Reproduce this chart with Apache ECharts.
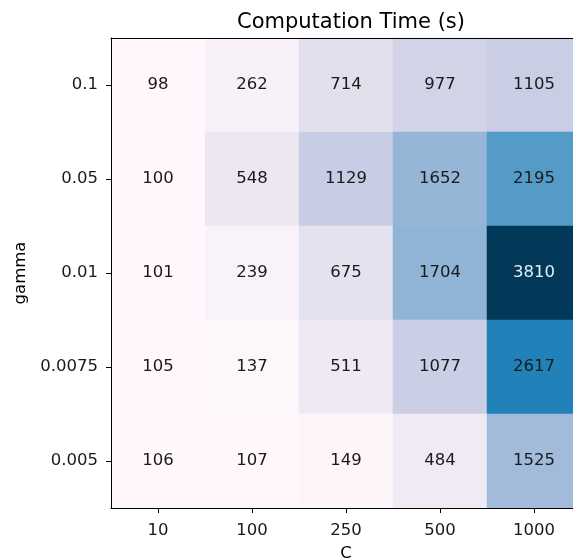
<!DOCTYPE html>
<html>
<head>
<meta charset="utf-8">
<title>Computation Time (s)</title>
<script src="https://cdn.jsdelivr.net/npm/echarts@6/dist/echarts.min.js"></script>
<style>
  html, body { margin: 0; padding: 0; background: #fff; }
  #chart { width: 573px; height: 560px; }
</style>
</head>
<body>
<div id="chart"></div>
<script>
// C on x, gamma on y (top to bottom)
const cValues = ['10', '100', '250', '500', '1000'];
const gammaValues = ['0.1', '0.05', '0.01', '0.0075', '0.005'];
// one row per gamma, one value per C
const timeRow01 = [98, 262, 714, 977, 1105];
const timeRow005 = [100, 548, 1129, 1652, 2195];
const timeRow001 = [101, 239, 675, 1704, 3810];
const timeRow00075 = [105, 137, 511, 1077, 2617];
const timeRow0005 = [106, 107, 149, 484, 1525];
const timeRows = [timeRow01, timeRow005, timeRow001, timeRow00075, timeRow0005];

// matplotlib PuBu
const puBu = ['#fff7fb', '#ece7f2', '#d0d1e6', '#a6bddb', '#74a9cf', '#3690c0', '#0570b0', '#045a8d', '#023858'];

let all = [];
timeRows.forEach(r => { all = all.concat(r); });
const vmin = Math.min(...all);
const vmax = Math.max(...all);

let cells = [];
timeRows.forEach((row, yi) => {
    row.forEach((v, xi) => {
        cells.push({
            value: [xi, yi, v],
            label: { color: v > (vmin + vmax) * 0.75 ? '#e6eef4' : '#1a1a1a' }
        });
    });
});

const font = 'DejaVu Sans';
const fs = 16.5;
let myChart = echarts.init(document.getElementById('chart'));
let option = {
    animation: false,
    textStyle: { fontFamily: font },
    title: {
        text: 'Computation Time (s)',
        left: 346,
        textAlign: 'center',
        top: 7,
        textStyle: { fontFamily: font, fontSize: 21, fontWeight: 'normal', color: '#000' }
    },
    grid: { left: 111, top: 38, width: 470, height: 470, outerBoundsMode: 'none' },
    visualMap: {
        show: false,
        type: 'continuous',
        min: vmin,
        max: vmax,
        dimension: 2,
        inRange: { color: puBu }
    },
    xAxis: [{
        type: 'category',
        data: cValues,
        position: 'bottom',
        z: 10,
        name: 'C',
        nameLocation: 'middle',
        nameGap: 37,
        nameTextStyle: { fontFamily: font, fontSize: fs, color: '#000' },
        axisLine: { show: true, lineStyle: { color: '#000', width: 1 } },
        axisTick: { show: true, alignWithLabel: true, length: 5, lineStyle: { color: '#000' } },
        axisLabel: { margin: 14, fontFamily: font, fontSize: fs, color: '#1a1a1a' },
        splitLine: { show: false }
    }, {
        type: 'category',
        data: cValues,
        position: 'top',
        z: 10,
        axisLine: { show: true, lineStyle: { color: '#000', width: 1 } },
        axisTick: { show: false },
        axisLabel: { show: false }
    }],
    yAxis: {
        type: 'category',
        data: gammaValues,
        inverse: true,
        z: 10,
        name: 'gamma',
        nameLocation: 'middle',
        nameGap: 79,
        nameTextStyle: { fontFamily: font, fontSize: fs, color: '#000' },
        axisLine: { show: true, lineStyle: { color: '#000', width: 1 } },
        axisTick: { show: true, alignWithLabel: true, length: 5, lineStyle: { color: '#000' } },
        axisLabel: { margin: 13, fontFamily: font, fontSize: fs, color: '#1a1a1a' },
        splitLine: { show: false }
    },
    series: [{
        type: 'heatmap',
        xAxisIndex: 0,
        data: cells,
        label: {
            show: true,
            fontFamily: font,
            fontSize: fs,
            formatter: p => String(p.value[2])
        },
        itemStyle: { borderWidth: 0 },
        emphasis: { disabled: true }
    }]
};
myChart.setOption(option);
window.addEventListener('resize', () => { myChart.resize(); });
</script>
</body>
</html>
